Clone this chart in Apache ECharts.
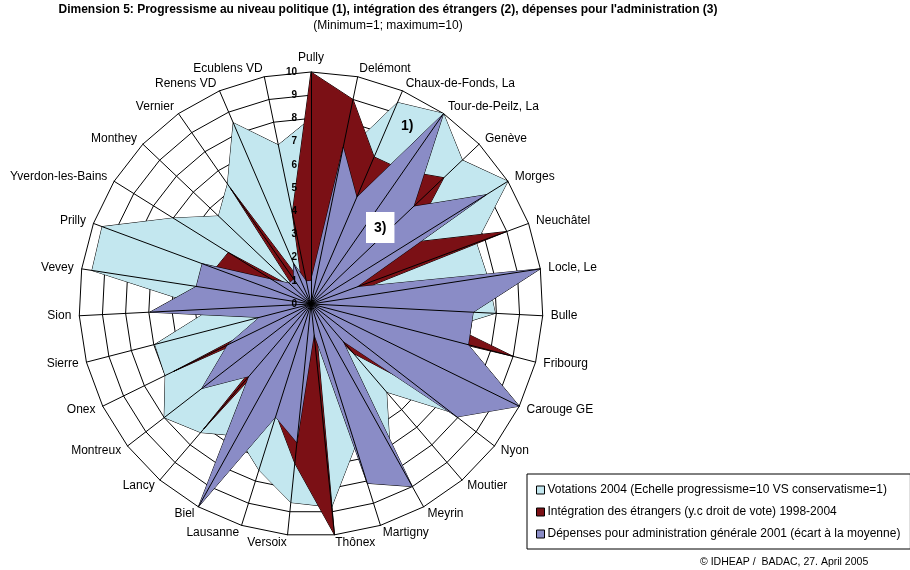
<!DOCTYPE html>
<html>
<head>
<meta charset="utf-8">
<script src="https://cdn.jsdelivr.net/npm/echarts@6/dist/echarts.min.js"></script>
<style>
  html, body { margin: 0; padding: 0; background: #fff; }
  #chart { width: 910px; height: 570px; }
</style>
</head>
<body>
<div id="chart"></div>
<script>
// Towns, clockwise from the top
const categories = ['Pully', 'Delémont', 'Chaux-de-Fonds, La', 'Tour-de-Peilz, La', 'Genève', 'Morges',
  'Neuchâtel', 'Locle, Le', 'Bulle', 'Fribourg', 'Carouge GE', 'Nyon', 'Moutier', 'Meyrin', 'Martigny',
  'Thônex', 'Versoix', 'Lausanne', 'Biel', 'Lancy', 'Montreux', 'Onex', 'Sierre', 'Sion', 'Vevey',
  'Prilly', 'Yverdon-les-Bains', 'Monthey', 'Vernier', 'Renens VD', 'Ecublens VD'];

// (1) Votations 2004
const votations = [8.0, 6.5, 9.45, 10, 9.0, 10, 7.6, 7.7, 7.95, 5.2, 6.5, 7.6, 5.0, 7.0, 6.4, 8.8,
  8.6, 7.5, 6.5, 7.3, 8.0, 7.0, 6.95, 4.3, 9.55, 9.6, 7.0, 5.5, 6.3, 8.5, 7.0];
// (2) Intégration des étrangers 1998-2004
const integration = [10, 9.0, 6.9, 7.0, 7.9, 5.0, 9.0, 1.0, 4.6, 9.0, 0.8, 6.0, 2.8, 1.0, 0.6, 10,
  6.9, 5.0, 1.0, 7.1, 1.0, 6.6, 0.8, 3.0, 3.5, 4.4, 4.2, 1.0, 6.1, 1.0, 4.0];
// (3) Dépenses pour administration générale 2001
const depenses = [1.0, 6.9, 5.0, 10, 6.1, 8.9, 2.1, 10, 7.0, 7.0, 10, 7.95, 2.1, 9.0, 8.1, 1.3,
  6.0, 5.1, 10, 4.1, 5.95, 4.0, 2.3, 6.95, 5.0, 5.0, 2.0, 1.3, 1.3, 1.9, 1.0];

const seriesNames = [
  'Votations 2004 (Echelle progressisme=10 VS conservatisme=1)',
  'Intégration des étrangers (y.c droit de vote) 1998-2004',
  'Dépenses pour administration générale 2001 (écart à la moyenne)'
];
const seriesColors = ['#C3E7EF', '#7B1015', '#8A8CC6'];

const tickLabels = ['0', '1', '2', '3', '4', '5', '6', '7', '8', '9', '10'];

// ECharts lays radar indicators out counter-clockwise, so reverse the order
const order = [0];
for (let i = categories.length - 1; i >= 1; i--) order.push(i);
const reorder = arr => order.map(i => arr[i]);

const FONT = 'Liberation Sans, Arial, Helvetica, sans-serif';
const CENTER = [311, 304];
const RADIUS = 232;

const chart = echarts.init(document.getElementById('chart'), null, { renderer: 'canvas' });

const values = [votations, integration, depenses];

chart.setOption({
  backgroundColor: '#fff',
  animation: false,
  textStyle: { fontFamily: FONT },
  radar: [
    {
      center: CENTER,
      radius: RADIUS,
      startAngle: 90,
      shape: 'polygon',
      splitNumber: 10,
      indicator: order.map(i => ({ name: categories[i], min: 0, max: 10 })),
      nameGap: 8,
      axisName: { color: '#000', fontSize: 12, fontFamily: FONT },
      axisLine: { show: false },
      axisTick: { show: false },
      axisLabel: { show: false },
      splitLine: { lineStyle: { color: '#000', width: 1 } },
      splitArea: { show: true, areaStyle: { color: ['#fff'] } },
      z: 0
    },
    {
      // spokes drawn over the filled areas
      center: CENTER,
      radius: RADIUS,
      startAngle: 90,
      shape: 'polygon',
      splitNumber: 10,
      indicator: order.map(() => ({ name: '', min: 0, max: 10 })),
      axisName: { show: false },
      axisLine: { lineStyle: { color: '#000', width: 1 } },
      axisTick: { show: false },
      axisLabel: { show: false },
      splitLine: { show: false },
      splitArea: { show: false },
      z: 10
    }
  ],
  polar: { center: CENTER, radius: RADIUS },
  angleAxis: { show: false, startAngle: 90, min: 0, max: 360 },
  radiusAxis: {
    min: 0, max: 10, interval: 1,
    axisLine: { show: false },
    axisTick: { show: false },
    splitLine: { show: false },
    axisLabel: {
      formatter: v => tickLabels[v],
      fontWeight: 'bold', fontSize: 10, color: '#000', fontFamily: FONT, margin: 14
    },
    z: 11
  },
  legend: {
    orient: 'vertical',
    left: 527,
    top: 474,
    data: seriesNames,
    itemWidth: 8,
    itemHeight: 8,
    itemGap: 10,
    icon: 'rect',
    padding: [10, 10, 9, 9],
    backgroundColor: '#fff',
    borderColor: '#000',
    borderWidth: 1,
    borderRadius: 0,
    selectedMode: false,
    itemStyle: { borderColor: '#000', borderWidth: 1 },
    textStyle: { fontSize: 12, color: '#000', fontFamily: FONT, padding: [0, 0, 0, -2] }
  },
  series: seriesNames.map((name, k) => ({
    name: name,
    type: 'radar',
    radarIndex: 0,
    symbol: 'none',
    z: 2 + k,
    itemStyle: { color: seriesColors[k], borderColor: '#000', borderWidth: 1 },
    lineStyle: { color: '#000', width: 1 },
    areaStyle: { color: seriesColors[k], opacity: 1 },
    data: [{ name: name, value: reorder(values[k]) }]
  })).concat([{ type: 'scatter', coordinateSystem: 'polar', data: [], silent: true }]),
  graphic: [
    {
      type: 'text', x: 388, y: 4, z: 20,
      style: {
        text: "Dimension 5: Progressisme au niveau politique (1), intégration des étrangers (2), dépenses pour l'administration (3)",
        fontFamily: FONT, fontSize: 12, fontWeight: 'bold', fill: '#000', align: 'center'
      }
    },
    {
      type: 'text', x: 388, y: 20, z: 20,
      style: { text: '(Minimum=1; maximum=10)', fontFamily: FONT, fontSize: 12, fill: '#000', align: 'center' }
    },
    {
      type: 'text', x: 401, y: 119, z: 20,
      style: { text: '1)', fontFamily: FONT, fontSize: 14, fontWeight: 'bold', fill: '#000' }
    },
    {
      type: 'text', x: 366, y: 212, z: 20,
      style: {
        text: '3)', fontFamily: FONT, fontSize: 14, fontWeight: 'bold', fill: '#000',
        backgroundColor: '#fff', padding: [9, 8, 8, 8]
      }
    },
    {
      type: 'text', x: 700, y: 557, z: 20,
      style: { text: '© IDHEAP /  BADAC, 27. April 2005', fontFamily: FONT, fontSize: 10.5, fill: '#000' }
    }
  ]
});
</script>
</body>
</html>
